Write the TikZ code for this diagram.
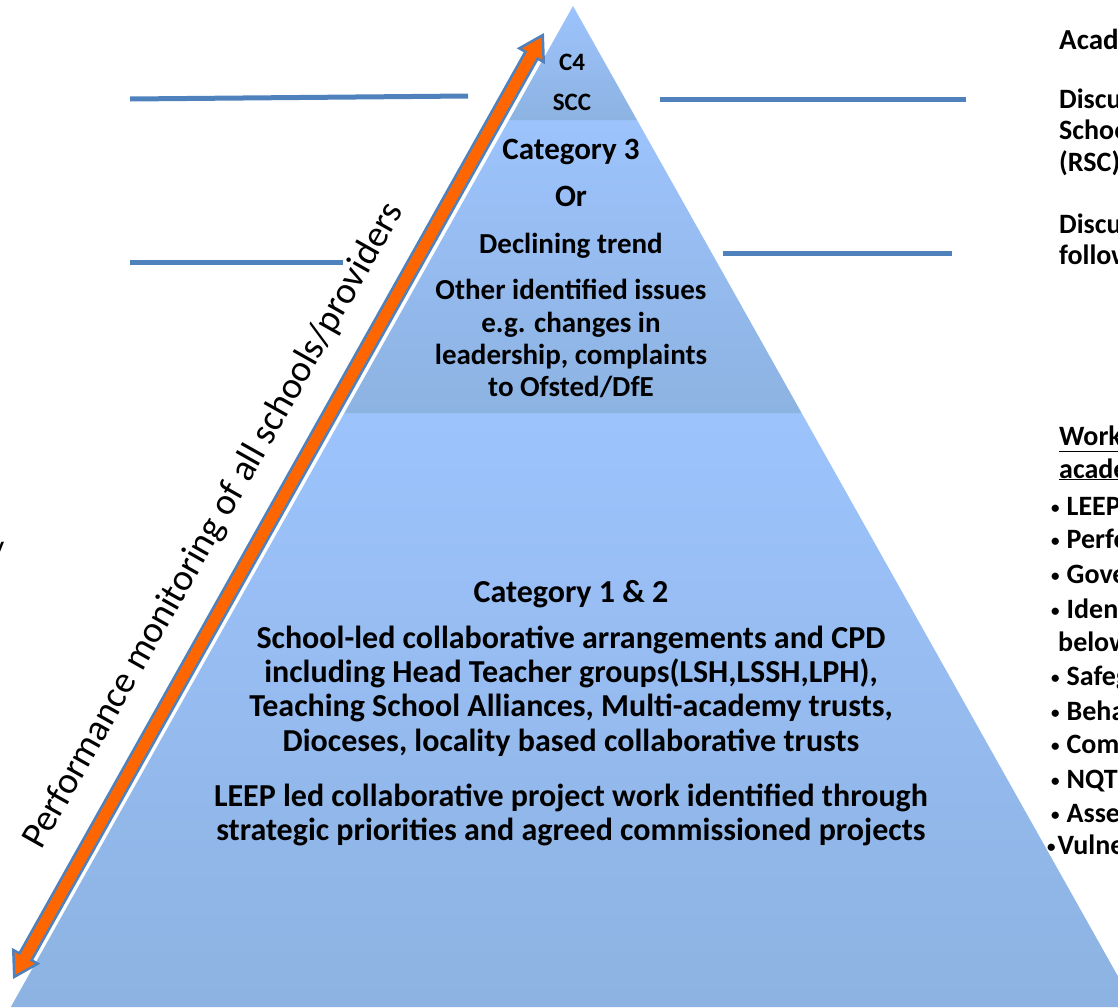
\documentclass[tikz,border=0pt]{standalone}
\usepackage{fontspec}
\setmainfont{Carlito}
\definecolor{pyrtop}{RGB}{157,195,253}
\definecolor{pyrbot}{RGB}{141,179,226}
\definecolor{lineblue}{RGB}{79,129,189}
\definecolor{arrorange}{RGB}{255,102,0}
\newcommand\mybul{\raisebox{2pt}{\fontsize{17}{17}\selectfont •}}
\begin{document}
\begin{tikzpicture}[x=1pt,y=-1pt,
  lab/.style={anchor=base,inner sep=0pt},
  rlab/.style={anchor=base west,inner sep=0pt,font=\bfseries\fontsize{28}{33}\selectfont},
  topf/.style={font=\bfseries\fontsize{25}{30}\selectfont},
  midf/.style={font=\bfseries\fontsize{29}{34}\selectfont},
  catf/.style={font=\bfseries\fontsize{31}{36}\selectfont},
  botf/.style={font=\bfseries\fontsize{32}{38}\selectfont},
  hline/.style={draw=lineblue,line width=5pt},
  sect/.style={top color=pyrtop,bottom color=pyrbot,draw=none}]
\useasboundingbox (0,0) rectangle (1118,1007);
\clip (0,0) rectangle (1118,1007);
% pyramid sections
\path[sect] (10.8,1007) -- (344.4,413) -- (801.6,413) -- (1135.2,1007) -- cycle;
\path[sect] (344.4,413) -- (509,120) -- (637,120) -- (801.6,413) -- cycle;
\path[sect] (509,120) -- (573,6) -- (637,120) -- cycle;
% horizontal lines
\coordinate (l1a) at (130,99); \coordinate (l1b) at (468,96);
\coordinate (l2a) at (660,99); \coordinate (l2b) at (966,99);
\coordinate (l3a) at (130,262); \coordinate (l3b) at (343,262);
\coordinate (l4a) at (723,253); \coordinate (l4b) at (952,253);
\draw[hline] (l1a) -- (l1b);
\draw[hline] (l2a) -- (l2b);
\draw[hline] (l3a) -- (l3b);
\draw[hline] (l4a) -- (l4b);
% double arrow
\begin{scope}[shift={(278.5,506)},rotate=60.7]
\filldraw[fill=arrorange,draw=lineblue,line width=2.5pt,line join=miter]
 (-540,0) -- (-517,14) -- (-517,7) -- (517,7) -- (517,14) -- (540,0)
 -- (517,-14) -- (517,-7) -- (-517,-7) -- (-517,-14) -- cycle;
\end{scope}
\node[inner sep=0pt,rotate=60.5,font=\fontsize{37.5}{45}\selectfont] (perf) at (214,526) {Performance monitoring of all schools/providers};
% top section
\node[lab,topf] (c4) at (572,70.5) {C4};
\node[lab,topf] (scc) at (572,110.5) {SCC};
% middle section
\node[lab,catf] (cat3) at (571,159) {Category 3};
\node[lab,catf] (or) at (571,206) {Or};
\node[lab,midf] (decl) at (571,253) {Declining trend};
\node[lab,midf] (oth1) at (571,299) {Other identified issues};
\node[lab,midf] (oth2) at (571,332) {e.g. changes in};
\node[lab,midf] (oth3) at (571,364) {leadership, complaints};
\node[lab,midf] (oth4) at (571,396) {to Ofsted/DfE};
% bottom section
\node[lab,botf] (cat12) at (571,602) {Category 1 \& 2};
\node[lab,botf] (b1) at (571,648) {School-led collaborative arrangements and CPD};
\node[lab,botf] (b2) at (571,682) {including Head Teacher groups(LSH,LSSH,LPH),};
\node[lab,botf] (b3) at (571,716) {Teaching School Alliances, Multi-academy trusts,};
\node[lab,botf] (b4) at (571,751) {Dioceses, locality based collaborative trusts};
\node[lab,botf] (b5) at (571,806) {LEEP led collaborative project work identified through};
\node[lab,botf] (b6) at (571,840) {strategic priorities and agreed commissioned projects};
% right column (cut off by the page edge)
\node[rlab,font=\bfseries\fontsize{29}{34}\selectfont] (r0) at (1059,49) {Academies};
\node[rlab] (r1) at (1059,108) {Discuss};
\node[rlab] (r2) at (1059,139) {Schools};
\node[rlab] (r3) at (1059,171) {(RSC)};
\node[rlab] (r4) at (1059,233) {Discuss};
\node[rlab] (r5) at (1059,264) {follow};
\node[rlab] (r6) at (1059,445) {\underline{Working}};
\node[rlab] (r7) at (1059,478) {\underline{academies}};
\node[rlab] (r8) at (1051,515) {\mybul\hspace{7pt}LEEP};
\node[rlab] (r9) at (1051,548) {\mybul\hspace{7pt}Performance};
\node[rlab] (r10) at (1051,583) {\mybul\hspace{7pt}Governance};
\node[rlab] (r11) at (1051,618) {\mybul\hspace{7pt}Identified};
\node[rlab] (r12) at (1058,651) {below};
\node[rlab] (r13) at (1051,685) {\mybul\hspace{7pt}Safeguarding};
\node[rlab] (r14) at (1051,720) {\mybul\hspace{7pt}Behaviour};
\node[rlab] (r15) at (1051,753) {\mybul\hspace{7pt}Complaints};
\node[rlab] (r16) at (1051,788) {\mybul\hspace{7pt}NQT};
\node[rlab] (r17) at (1051,822) {\mybul\hspace{7pt}Assessment};
\node[rlab] (r18) at (1047,854) {\mybul\hspace{2pt}Vulnerable};
% partly visible letter at the left edge
\node[inner sep=0pt,font=\fontsize{32}{38}\selectfont] (ly) at (-3,552) {y};
\end{tikzpicture}
\end{document}
